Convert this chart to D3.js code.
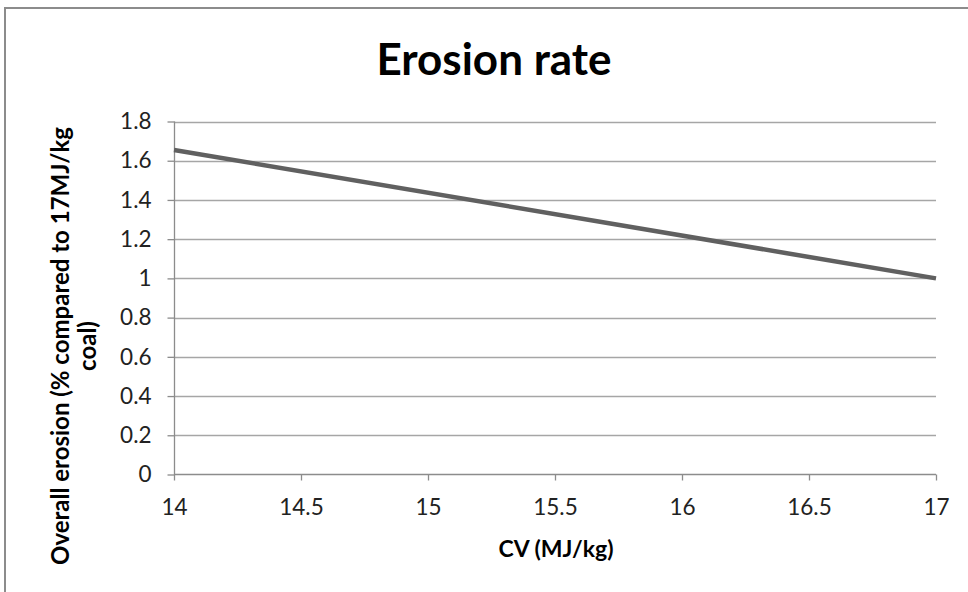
<!DOCTYPE html>
<meta charset="utf-8">
<style>
  body { margin: 0; background: #fff; }
  text { font-family: Lato, "Open Sans", sans-serif; }
</style>
<body>
<script src="https://cdn.jsdelivr.net/npm/d3@7"></script>
<script>

var width = 968,
    height = 592;

// data
var cv = [14, 17],
    erosion = [1.655, 1.0],
    xTicks = [14, 14.5, 15, 15.5, 16, 16.5, 17],
    yTicks = [0, 0.2, 0.4, 0.6, 0.8, 1, 1.2, 1.4, 1.6, 1.8];

var title = "Erosion rate",
    xTitle = "CV (MJ/kg)",
    yTitle = ["Overall erosion (% compared to 17MJ/kg", "coal)"];

var plot = {left: 174, right: 936, top: 121.5, bottom: 474.5};

var x = d3.scaleLinear()
    .domain([14, 17])
    .range([plot.left, plot.right]);

var y = d3.scaleLinear()
    .domain([0, 1.8])
    .range([plot.bottom, plot.top]);

var svg = d3.select("body").append("svg")
    .attr("width", width)
    .attr("height", height);

// chart frame (only top and left edges are in view)
svg.append("path")
    .attr("d", "M5,600 V8 H980")
    .attr("fill", "none")
    .attr("stroke", "#8c8c8c")
    .attr("stroke-width", 2);

svg.append("text")
    .attr("x", 494)
    .attr("y", 75)
    .attr("text-anchor", "middle")
    .attr("font-size", 44)
    .attr("font-weight", "bold")
    .text(title);

// gridlines
svg.append("g")
    .selectAll("line")
    .data(yTicks.filter(d => d > 0))
    .enter().append("line")
    .attr("x1", plot.left)
    .attr("x2", plot.right)
    .attr("y1", d => Math.round(y(d)) + 0.5)
    .attr("y2", d => Math.round(y(d)) + 0.5)
    .attr("stroke", "#a6a6a6")
    .attr("stroke-width", 1.3);

var yAxis = svg.append("g")
    .attr("transform", "translate(" + (plot.left + 0.5) + ",0)")
    .call(d3.axisLeft(y).tickValues(yTicks).tickSize(7).tickPadding(16)
      .tickFormat(d3.format("~g")));

var xAxis = svg.append("g")
    .attr("transform", "translate(0," + (plot.bottom) + ")")
    .call(d3.axisBottom(x).tickValues(xTicks).tickSize(6).tickPadding(19)
      .tickFormat(d3.format("~g")));

[xAxis, yAxis].forEach(function(g) {
  g.selectAll(".domain").attr("stroke", "#8c8c8c").attr("stroke-width", 1.3);
  g.selectAll(".tick line").attr("stroke", "#8c8c8c").attr("stroke-width", 1.3);
  g.selectAll(".tick text")
      .attr("fill", "#222")
      .style("font-family", "Lato, sans-serif")
      .style("font-size", "22.5px");
});
yAxis.select(".domain").attr("d", "M0," + plot.top + "V" + plot.bottom);
xAxis.select(".domain").attr("d", "M" + plot.left + ",0H" + plot.right);

var line = d3.line()
    .x((d, i) => x(cv[i]))
    .y(d => y(d));

svg.append("path")
    .datum(erosion)
    .attr("d", line)
    .attr("fill", "none")
    .attr("stroke", "#606060")
    .attr("stroke-width", 4.5);

svg.append("text")
    .attr("x", 556)
    .attr("y", 557)
    .attr("text-anchor", "middle")
    .attr("font-size", 23)
    .attr("font-weight", "bold")
    .text(xTitle);

var yt = svg.append("text")
    .attr("transform", "translate(69,346) rotate(-90)")
    .attr("text-anchor", "middle")
    .attr("font-size", 24)
    .attr("font-weight", "bold");

yt.selectAll("tspan")
    .data(yTitle)
    .enter().append("tspan")
    .attr("x", 0)
    .attr("dy", (d, i) => i ? 27 : 0)
    .text(d => d);

</script>
